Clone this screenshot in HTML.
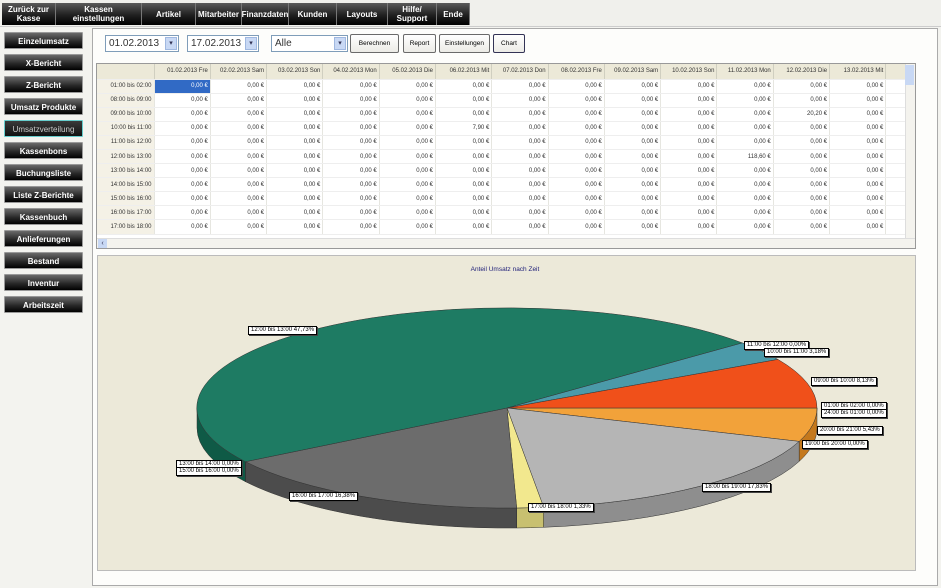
<!DOCTYPE html>
<html><head><meta charset="utf-8"><style>
*{box-sizing:border-box;margin:0;padding:0}
body{width:941px;height:588px;overflow:hidden;background:#f3f3ef;font-family:"Liberation Sans",sans-serif;position:relative}
.a{position:absolute}
.nb{position:absolute;top:3px;height:22px;background:linear-gradient(#5a5a5a,#202020 55%,#000);color:#fff;font-size:8px;text-align:center;display:flex;align-items:center;justify-content:center;line-height:9px;border-right:1px solid #777;font-weight:bold}
.sb{position:absolute;left:4px;width:79px;height:17px;background:linear-gradient(#6a6a6a,#2a2a2a 55%,#000);color:#fff;font-size:8px;font-weight:bold;text-align:center;line-height:17px;border:1px solid #999;border-radius:1px}
.cb{position:absolute;top:35px;height:17px;border:1px solid #7f9db9;background:#fff;font-size:10px;line-height:15px;padding-left:3px;color:#333}
.cb i{position:absolute;right:1px;top:1px;width:12px;height:13px;background:#c8d8f4;border:1px solid #a0b8e0;font-style:normal;font-size:7px;line-height:12px;text-align:center;color:#335}
.bt{position:absolute;top:34px;height:19px;border:1px solid #6a6a6a;border-radius:2px;background:linear-gradient(#fff,#ecebe6);font-size:6.5px;line-height:17px;text-align:center;color:#000}
table{border-collapse:collapse;font-size:6px;color:#333;table-layout:fixed}
td{height:14.1px;border-right:1px solid #e6e6e0;border-bottom:1px solid #eee;text-align:right;padding-right:2px;background:#fff;white-space:nowrap;overflow:hidden}
td.h{background:#ece9d8;border-right:1px solid #d0cfc0;height:15px}
td.r{background:#f4f1e6}
.lb{position:absolute;background:#fff;border:1px solid #000;box-shadow:1px 1px 0 #444;font-size:6px;line-height:7px;padding:0 2px;white-space:nowrap;color:#000}
</style></head><body>
<div class="a" style="left:0;top:0;width:941px;height:27px;background:#f0f0ec;border-bottom:1px solid #ccc"></div>
<div class="nb" style="left:2px;width:54px">Zurück zur<br>Kasse</div>
<div class="nb" style="left:56px;width:86px">Kassen<br>einstellungen</div>
<div class="nb" style="left:142px;width:54px">Artikel</div>
<div class="nb" style="left:196px;width:46px">Mitarbeiter</div>
<div class="nb" style="left:242px;width:47px">Finanzdaten</div>
<div class="nb" style="left:289px;width:48px">Kunden</div>
<div class="nb" style="left:337px;width:51px">Layouts</div>
<div class="nb" style="left:388px;width:49px">Hilfe/<br>Support</div>
<div class="nb" style="left:437px;width:33px">Ende</div>

<div class="sb" style="top:32px">Einzelumsatz</div>
<div class="sb" style="top:54px">X-Bericht</div>
<div class="sb" style="top:76px">Z-Bericht</div>
<div class="sb" style="top:98px">Umsatz Produkte</div>
<div class="sb" style="top:120px;background:linear-gradient(#3a3a3a,#111);border-color:#6cc;color:#ccc;font-weight:normal">Umsatzverteilung</div>
<div class="sb" style="top:142px">Kassenbons</div>
<div class="sb" style="top:164px">Buchungsliste</div>
<div class="sb" style="top:186px">Liste Z-Berichte</div>
<div class="sb" style="top:208px">Kassenbuch</div>
<div class="sb" style="top:230px">Anlieferungen</div>
<div class="sb" style="top:252px">Bestand</div>
<div class="sb" style="top:274px">Inventur</div>
<div class="sb" style="top:296px">Arbeitszeit</div>

<div class="a" style="left:92px;top:28px;width:846px;height:558px;border:1px solid #aaa;background:#fdfdfb"></div>
<div class="cb" style="left:105px;width:74px">01.02.2013<i>▾</i></div>
<div class="cb" style="left:187px;width:72px">17.02.2013<i>▾</i></div>
<div class="cb" style="left:271px;width:77px">Alle<i>▾</i></div>
<div class="bt" style="left:350px;width:49px">Berechnen</div>
<div class="bt" style="left:403px;width:33px">Report</div>
<div class="bt" style="left:439px;width:51px">Einstellungen</div>
<div class="bt" style="left:493px;width:32px;border-color:#335">Chart</div>

<div class="a" style="left:96px;top:63px;width:820px;height:186px;border:1px solid #999;background:#fff;overflow:hidden">
<table style="width:835px">
<colgroup><col style="width:57px"><col span="14" style="width:56.3px"></colgroup>
<tr><td class="h"></td><td class="h">01.02.2013 Fre</td><td class="h">02.02.2013 Sam</td><td class="h">03.02.2013 Son</td><td class="h">04.02.2013 Mon</td><td class="h">05.02.2013 Die</td><td class="h">06.02.2013 Mit</td><td class="h">07.02.2013 Don</td><td class="h">08.02.2013 Fre</td><td class="h">09.02.2013 Sam</td><td class="h">10.02.2013 Son</td><td class="h">11.02.2013 Mon</td><td class="h">12.02.2013 Die</td><td class="h">13.02.2013 Mit</td><td class="h">14</td></tr>
<tr><td class="r">01:00 bis 02:00</td><td style="background:#316ac5;color:#fff">0,00 €</td><td>0,00 €</td><td>0,00 €</td><td>0,00 €</td><td>0,00 €</td><td>0,00 €</td><td>0,00 €</td><td>0,00 €</td><td>0,00 €</td><td>0,00 €</td><td>0,00 €</td><td>0,00 €</td><td>0,00 €</td><td></td></tr>
<tr><td class="r">08:00 bis 09:00</td><td>0,00 €</td><td>0,00 €</td><td>0,00 €</td><td>0,00 €</td><td>0,00 €</td><td>0,00 €</td><td>0,00 €</td><td>0,00 €</td><td>0,00 €</td><td>0,00 €</td><td>0,00 €</td><td>0,00 €</td><td>0,00 €</td><td></td></tr>
<tr><td class="r">09:00 bis 10:00</td><td>0,00 €</td><td>0,00 €</td><td>0,00 €</td><td>0,00 €</td><td>0,00 €</td><td>0,00 €</td><td>0,00 €</td><td>0,00 €</td><td>0,00 €</td><td>0,00 €</td><td>0,00 €</td><td>20,20 €</td><td>0,00 €</td><td></td></tr>
<tr><td class="r">10:00 bis 11:00</td><td>0,00 €</td><td>0,00 €</td><td>0,00 €</td><td>0,00 €</td><td>0,00 €</td><td>7,90 €</td><td>0,00 €</td><td>0,00 €</td><td>0,00 €</td><td>0,00 €</td><td>0,00 €</td><td>0,00 €</td><td>0,00 €</td><td></td></tr>
<tr><td class="r">11:00 bis 12:00</td><td>0,00 €</td><td>0,00 €</td><td>0,00 €</td><td>0,00 €</td><td>0,00 €</td><td>0,00 €</td><td>0,00 €</td><td>0,00 €</td><td>0,00 €</td><td>0,00 €</td><td>0,00 €</td><td>0,00 €</td><td>0,00 €</td><td></td></tr>
<tr><td class="r">12:00 bis 13:00</td><td>0,00 €</td><td>0,00 €</td><td>0,00 €</td><td>0,00 €</td><td>0,00 €</td><td>0,00 €</td><td>0,00 €</td><td>0,00 €</td><td>0,00 €</td><td>0,00 €</td><td>118,60 €</td><td>0,00 €</td><td>0,00 €</td><td></td></tr>
<tr><td class="r">13:00 bis 14:00</td><td>0,00 €</td><td>0,00 €</td><td>0,00 €</td><td>0,00 €</td><td>0,00 €</td><td>0,00 €</td><td>0,00 €</td><td>0,00 €</td><td>0,00 €</td><td>0,00 €</td><td>0,00 €</td><td>0,00 €</td><td>0,00 €</td><td></td></tr>
<tr><td class="r">14:00 bis 15:00</td><td>0,00 €</td><td>0,00 €</td><td>0,00 €</td><td>0,00 €</td><td>0,00 €</td><td>0,00 €</td><td>0,00 €</td><td>0,00 €</td><td>0,00 €</td><td>0,00 €</td><td>0,00 €</td><td>0,00 €</td><td>0,00 €</td><td></td></tr>
<tr><td class="r">15:00 bis 16:00</td><td>0,00 €</td><td>0,00 €</td><td>0,00 €</td><td>0,00 €</td><td>0,00 €</td><td>0,00 €</td><td>0,00 €</td><td>0,00 €</td><td>0,00 €</td><td>0,00 €</td><td>0,00 €</td><td>0,00 €</td><td>0,00 €</td><td></td></tr>
<tr><td class="r">16:00 bis 17:00</td><td>0,00 €</td><td>0,00 €</td><td>0,00 €</td><td>0,00 €</td><td>0,00 €</td><td>0,00 €</td><td>0,00 €</td><td>0,00 €</td><td>0,00 €</td><td>0,00 €</td><td>0,00 €</td><td>0,00 €</td><td>0,00 €</td><td></td></tr>
<tr><td class="r">17:00 bis 18:00</td><td>0,00 €</td><td>0,00 €</td><td>0,00 €</td><td>0,00 €</td><td>0,00 €</td><td>0,00 €</td><td>0,00 €</td><td>0,00 €</td><td>0,00 €</td><td>0,00 €</td><td>0,00 €</td><td>0,00 €</td><td>0,00 €</td><td></td></tr>
</table>
<div class="a" style="left:0;top:174px;width:818px;height:11px;background:#f4f3ee;border-top:1px solid #ddd"></div>
<div class="a" style="left:1px;top:175px;width:9px;height:9px;background:#c8d8f4;font-size:7px;line-height:9px;text-align:center;color:#335">‹</div>
<div class="a" style="left:808px;top:0;width:10px;height:174px;background:#f4f3ee;border-left:1px solid #ddd"></div>
<div class="a" style="left:808px;top:1px;width:9px;height:20px;background:#c8d8f4"></div>
</div>

<div class="a" style="left:97px;top:255px;width:819px;height:316px;background:#ece9d9;border:1px solid #bbb"></div>
<div class="a" style="left:440px;top:266px;width:130px;text-align:center;font-size:6.5px;color:#22227a">Anteil Umsatz nach Zeit</div>
<svg class="a" style="left:0;top:0" width="941" height="588" id="pie"></svg>
<script>
(function(){
var cx=507,cy=408,rx=310,ry=100,d=20,svg=document.getElementById('pie');
var s=[[0,19.5,'#f2a23a','#c4781c'],[19.5,83.2,'#b5b5b5','#8e8e8e'],[83.2,88.2,'#f2e88e','#c8c070'],[88.2,147.5,'#6c6c6c','#4c4c4c'],[147.5,319.4,'#1e7b63','#0f5a46'],[319.4,330.9,'#4b9aa9','#2f7480'],[330.9,360,'#f0501a','#b83a10']];
function P(t,dy){t=t*Math.PI/180;return [(cx+rx*Math.cos(t)).toFixed(1),(cy+ry*Math.sin(t)+(dy||0)).toFixed(1)];}
var h='';
s.forEach(function(a){var a0=Math.max(a[0],0),a1=Math.min(a[1],180);if(a1<=a0)return;
var p0=P(a0),p1=P(a1),q1=P(a1,d),q0=P(a0,d);
h+='<path d="M'+p0+' A'+rx+' '+ry+' 0 0 1 '+p1+' L'+q1+' A'+rx+' '+ry+' 0 0 0 '+q0+' Z" fill="'+a[3]+'" stroke="#333" stroke-width="0.5"/>';
if(a[0]>0&&a[0]<180){var e=P(a[0]),f=P(a[0],d);h+='<line x1="'+e[0]+'" y1="'+e[1]+'" x2="'+f[0]+'" y2="'+f[1]+'" stroke="#333" stroke-width="0.5"/>';}});
s.forEach(function(a){var p0=P(a[0]),p1=P(a[1]),lg=(a[1]-a[0])>180?1:0;
h+='<path d="M'+cx+' '+cy+' L'+p0+' A'+rx+' '+ry+' 0 '+lg+' 1 '+p1+' Z" fill="'+a[2]+'" stroke="#333" stroke-width="0.5"/>';});
svg.innerHTML=h;})();
</script>
<div class="lb" style="left:248px;top:326px">12:00 bis 13:00 47,73%</div>
<div class="lb" style="left:744px;top:341px">11:00 bis 12:00 0,00%</div>
<div class="lb" style="left:764px;top:348px">10:00 bis 11:00 3,18%</div>
<div class="lb" style="left:811px;top:377px">09:00 bis 10:00 8,13%</div>
<div class="lb" style="left:821px;top:402px">01:00 bis 02:00 0,00%</div>
<div class="lb" style="left:821px;top:409px">24:00 bis 01:00 0,00%</div>
<div class="lb" style="left:817px;top:426px">20:00 bis 21:00 5,43%</div>
<div class="lb" style="left:802px;top:440px">19:00 bis 20:00 0,00%</div>
<div class="lb" style="left:702px;top:483px">18:00 bis 19:00 17,83%</div>
<div class="lb" style="left:528px;top:503px">17:00 bis 18:00 1,33%</div>
<div class="lb" style="left:289px;top:492px">16:00 bis 17:00 16,38%</div>
<div class="lb" style="left:176px;top:460px">13:00 bis 14:00 0,00%</div>
<div class="lb" style="left:176px;top:467px">15:00 bis 16:00 0,00%</div>
</body></html>
